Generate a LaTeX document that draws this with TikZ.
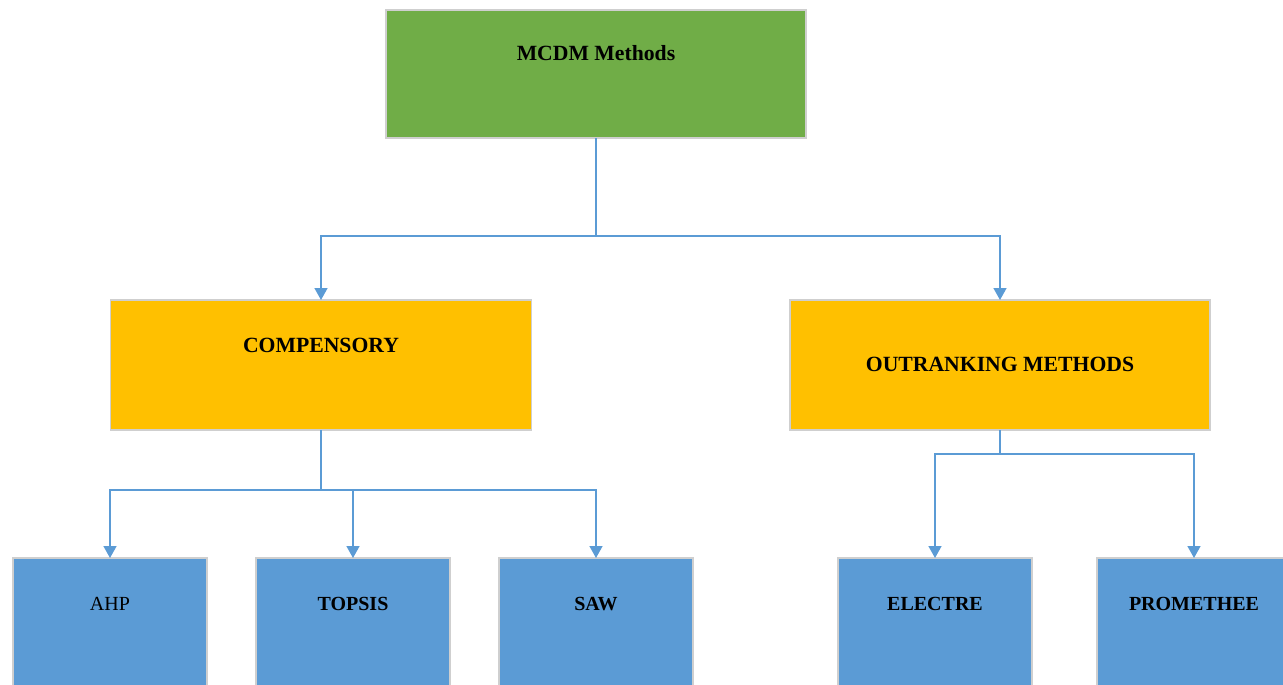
\documentclass[tikz,border=0pt]{standalone}
\usepackage{fontspec}
\setmainfont{Liberation Serif}
\usetikzlibrary{arrows.meta,calc}
\definecolor{mgreen}{HTML}{70AD47}
\definecolor{mgold}{HTML}{FFC000}
\definecolor{mblue}{HTML}{5B9BD5}
\definecolor{mborder}{HTML}{CFCFCF}
\begin{document}
\begin{tikzpicture}[x=1pt,y=-1pt,
  box/.style={draw=mborder, line width=1.2pt, inner sep=0pt, outer sep=0pt},
  topbox/.style={box, fill=mgreen, minimum width=420pt, minimum height=128pt},
  midbox/.style={box, fill=mgold, minimum width=421pt, minimum height=130pt},
  lowbox/.style={box, fill=mblue, minimum width=194pt, minimum height=140pt},
  big/.style={font=\fontsize{21.7}{26}\selectfont\bfseries},
  small/.style={font=\fontsize{20}{24}\selectfont},
  smallb/.style={font=\fontsize{20}{24}\selectfont\bfseries},
  conn/.style={draw=mblue, line width=1.6pt},
  arr/.style={conn, -{Triangle[width=13pt,length=12pt]}}
]
\useasboundingbox (0,0) rectangle (1283,685);
\begin{scope}
\clip (0,0) rectangle (1283,685);
\node[topbox, label={[big, anchor=center, yshift=-43pt]north:MCDM Methods}] (mcdm) at (596,74) {};
\node[midbox, label={[big, anchor=center, yshift=-45pt]north:COMPENSORY}] (comp) at (321,365) {};
\node[midbox, minimum width=420pt, label={[big, anchor=center, yshift=-64pt]north:OUTRANKING METHODS}] (out) at (1000,365) {};
\node[lowbox, label={[small, anchor=center, yshift=-46pt]north:AHP}] (ahp) at (110,628) {};
\node[lowbox, label={[smallb, anchor=center, yshift=-46pt]north:TOPSIS}] (topsis) at (353,628) {};
\node[lowbox, label={[smallb, anchor=center, yshift=-46pt]north:SAW}] (saw) at (596,628) {};
\node[lowbox, label={[smallb, anchor=center, yshift=-46pt]north:ELECTRE}] (electre) at (935,628) {};
\node[lowbox, label={[smallb, anchor=center, yshift=-46pt]north:PROMETHEE}] (prom) at (1194,628) {};
\end{scope}
\coordinate (j1) at (596,236);
\coordinate (j2) at (321,490);
\coordinate (j3) at (1000,454);
\draw[conn] (mcdm.south) -- (j1);
\draw[arr] (j1) -| (comp.north);
\draw[arr] (j1) -| (out.north);
\draw[conn] (comp.south) -- (j2);
\draw[arr] (j2) -| (ahp.north);
\draw[arr] (j2) -| (topsis.north);
\draw[arr] (j2) -| (saw.north);
\draw[conn] (out.south) -- (j3);
\draw[arr] (j3) -| (electre.north);
\draw[arr] (j3) -| (prom.north);
\end{tikzpicture}
\end{document}
